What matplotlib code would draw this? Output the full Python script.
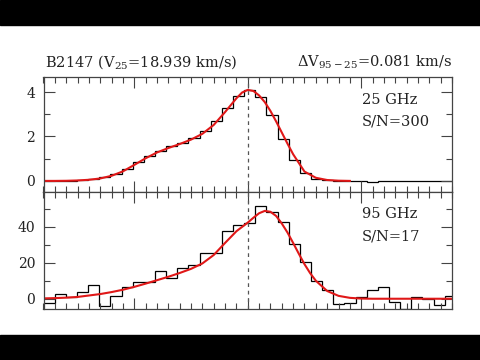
import numpy as np
import matplotlib
matplotlib.use("Agg")
import matplotlib.pyplot as plt
from matplotlib.patches import Rectangle
from matplotlib.ticker import MultipleLocator

plt.rcParams['font.family'] = ['DejaVu Serif']
plt.rcParams['mathtext.fontset'] = 'dejavuserif'

# channel grid (km/s, relative to V25)
chan_start = -1.799
chan_width = 0.0982
n_chan = 37

# 25 GHz spectrum (observed, per channel)
spec_25 = [0.0, 0.0, 0.01, 0.03, 0.08, 0.17, 0.30, 0.53, 0.87, 1.13,
           1.35, 1.55, 1.70, 1.92, 2.25, 2.72, 3.30, 3.84, 4.10, 3.80,
           2.97, 1.90, 0.95, 0.35, 0.10, 0.03, 0.01, 0.0, 0.0, -0.06,
           0.0, 0.0, 0.0, 0.0, 0.0, 0.0, 0.0]

# 95 GHz spectrum (observed, per channel)
spec_95 = [-2.5, 2.4, 1.1, 3.5, 7.6, -3.9, 1.5, 6.3, 9.2, 9.2,
           15.2, 11.5, 17.2, 19.0, 25.2, 25.2, 37.8, 40.9, 41.9, 51.7,
           48.0, 42.4, 30.4, 20.2, 9.8, 4.8, -3.1, -2.6, 1.1, 4.8,
           6.3, -1.8, -5.5, 1.1, 0.0, -3.5, 1.3]

# fitted profiles
fit_25_v = [-1.8, -1.7, -1.6, -1.5, -1.4, -1.3, -1.2, -1.1, -1.0, -0.9,
            -0.8, -0.7, -0.6, -0.5, -0.4, -0.3, -0.2, -0.1, -0.05, 0.0,
            0.05, 0.1, 0.15, 0.2, 0.25, 0.3, 0.35, 0.4, 0.5, 0.6,
            0.7, 0.8, 0.9]
fit_25 = [0.0, 0.0, 0.005, 0.02, 0.05, 0.11, 0.23, 0.43, 0.72, 1.02,
          1.28, 1.48, 1.66, 1.86, 2.12, 2.52, 3.10, 3.72, 3.98, 4.10,
          4.05, 3.85, 3.55, 3.15, 2.68, 2.18, 1.68, 1.20, 0.42, 0.14,
          0.04, 0.01, 0.0]

fit_95_v = [-1.8, -1.7, -1.6, -1.5, -1.4, -1.3, -1.2, -1.1, -1.0, -0.9,
            -0.8, -0.7, -0.6, -0.5, -0.4, -0.3, -0.2, -0.1, 0.0, 0.05,
            0.1, 0.15, 0.2, 0.25, 0.3, 0.35, 0.4, 0.45, 0.5, 0.55,
            0.6, 0.7, 0.8, 0.9, 1.0, 1.1, 1.8]
fit_95 = [0.2, 0.35, 0.6, 1.0, 1.8, 2.6, 3.7, 5.0, 6.6, 8.4,
          10.3, 12.2, 14.3, 16.6, 19.6, 24.3, 31.0, 37.5, 42.3, 45.0,
          47.5, 48.8, 48.3, 46.0, 41.8, 36.8, 31.0, 25.0, 19.2, 14.2,
          10.0, 4.3, 1.6, 0.5, 0.1, 0.0, 0.0]

edges = chan_start + chan_width * np.arange(n_chan + 1)

fig = plt.figure(figsize=(4.8, 3.6), dpi=100)
fig.patch.set_facecolor('white')
# letterbox bars
fig.patches.append(Rectangle((0, 1 - 25 / 360), 1, 25 / 360, transform=fig.transFigure,
                             color='black', zorder=0))
fig.patches.append(Rectangle((0, 0), 1, 25 / 360, transform=fig.transFigure,
                             color='black', zorder=0))

L, W = 43.5 / 480, (452 - 43.5) / 480
ax1 = fig.add_axes([L, 1 - 192 / 360, W, 115 / 360])
ax2 = fig.add_axes([L, 1 - 309 / 360, W, 117 / 360])

frame = '#444444'
for ax, spec, fv, fy, ylim, ymaj, ymin in [
        (ax1, spec_25, fit_25_v, fit_25, (-0.5, 4.68), 2, 1),
        (ax2, spec_95, fit_95_v, fit_95, (-5.7, 59.3), 20, 10)]:
    ax.stairs(spec, edges, baseline=None, color='black', lw=0.9)
    ax.plot(fv, fy, color='#e01818', lw=1.5)
    ax.axvline(0, color='#555555', ls=(0, (3, 3)), lw=0.9)
    ax.set_xlim(-1.8, 1.8)
    ax.set_ylim(*ylim)
    ax.xaxis.set_major_locator(MultipleLocator(1))
    ax.xaxis.set_minor_locator(MultipleLocator(0.1))
    ax.yaxis.set_major_locator(MultipleLocator(ymaj))
    ax.yaxis.set_minor_locator(MultipleLocator(ymin))
    ax.tick_params(which='both', direction='in', top=True, right=True,
                   color=frame, labelcolor='#222222', labelsize=10, width=0.8)
    ax.tick_params(which='major', length=8, pad=6)
    ax.tick_params(which='minor', length=4)
    ax.tick_params(axis='x', labelbottom=False)
    for s in ax.spines.values():
        s.set_color(frame)
        s.set_linewidth(0.9)

tx = 0.78
ax1.text(tx, 0.80, '25 GHz', transform=ax1.transAxes, fontsize=10.5,
         color='#222222', va='center')
ax1.text(tx, 0.612, 'S/N=300', transform=ax1.transAxes, fontsize=10.5,
         color='#222222', va='center')
ax2.text(tx, 0.812, '95 GHz', transform=ax2.transAxes, fontsize=10.5,
         color='#222222', va='center')
ax2.text(tx, 0.618, 'S/N=17', transform=ax2.transAxes, fontsize=10.5,
         color='#222222', va='center')

fig.text(45 / 480, 1 - 62 / 360, r'B2147 (V$_{25}$=18.939 km/s)', fontsize=10.5,
         color='#222222', va='center', ha='left')
fig.text(452 / 480, 1 - 62 / 360, r'$\Delta$V$_{95-25}$=0.081 km/s', fontsize=10.5,
         color='#222222', va='center', ha='right')

fig.savefig('out.png', dpi=100, facecolor='white')
